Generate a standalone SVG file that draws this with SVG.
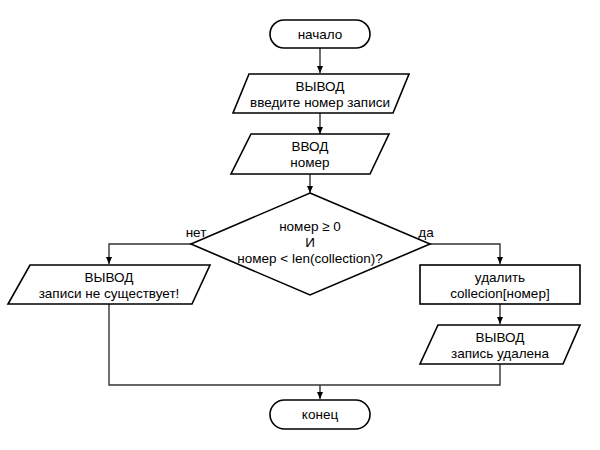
<svg xmlns="http://www.w3.org/2000/svg" width="600" height="450" viewBox="0 0 600 450">
<defs>
<style>
.s{fill:#fff;stroke:#000;stroke-width:1.6}
.c{fill:none;stroke:#333;stroke-width:1.4}
text{font-family:"Liberation Sans",Arial,sans-serif;font-size:13.5px;fill:#000;text-anchor:middle}
</style>
<marker id="a" markerWidth="8" markerHeight="8" refX="7" refY="4" orient="auto" markerUnits="userSpaceOnUse">
<path d="M0,1 L7,4 L0,7 Z" fill="#000"/>
</marker>
</defs>
<rect width="600" height="450" fill="#fff"/>
<g id="connectors">
<line class="c" x1="320" y1="48" x2="320" y2="73" marker-end="url(#a)"/>
<line class="c" x1="320" y1="113" x2="320" y2="134" marker-end="url(#a)"/>
<line class="c" x1="310" y1="174" x2="310" y2="193" marker-end="url(#a)"/>
<polyline class="c" points="191,244 109,244 109,264" marker-end="url(#a)"/>
<polyline class="c" points="430,244 500,244 500,264" marker-end="url(#a)"/>
<line class="c" x1="500" y1="304" x2="500" y2="324" marker-end="url(#a)"/>
<polyline class="c" points="109,304 109,385 500,385 500,364"/>
<line class="c" x1="320" y1="385" x2="320" y2="399" marker-end="url(#a)"/>
<text x="196" y="237">нет</text>
<text x="426" y="237">да</text>
</g>
<g id="start">
<rect class="s" x="270" y="20" width="100" height="28" rx="14"/>
<text x="320" y="39">начало</text>
</g>
<g id="out1">
<polygon class="s" points="249,74 409,74 393,113 233,113"/>
<text x="320" y="91">ВЫВОД</text>
<text x="320" y="107">введите номер записи</text>
</g>
<g id="in1">
<polygon class="s" points="251,134 389,134 370,174 231,174"/>
<text x="310" y="151">ВВОД</text>
<text x="310" y="167">номер</text>
</g>
<g id="decision">
<polygon class="s" points="310,193 430,244 310,295 191,244"/>
<text x="310" y="231">номер ≥ 0</text>
<text x="310" y="247">И</text>
<text x="310" y="263">номер &lt; len(collection)?</text>
</g>
<g id="out2">
<polygon class="s" points="30,265 210,265 192,304 8,304"/>
<text x="109" y="282">ВЫВОД</text>
<text x="109" y="298">записи не существует!</text>
</g>
<g id="del">
<rect class="s" x="420" y="265" width="160" height="39"/>
<text x="500" y="282">удалить</text>
<text x="500" y="298">collecion[номер]</text>
</g>
<g id="out3">
<polygon class="s" points="438,325 580,325 563,364 420,364"/>
<text x="500" y="342">ВЫВОД</text>
<text x="500" y="358">запись удалена</text>
</g>
<g id="end">
<rect class="s" x="270" y="400" width="100" height="29" rx="14.5"/>
<text x="320" y="419">конец</text>
</g>
</svg>
